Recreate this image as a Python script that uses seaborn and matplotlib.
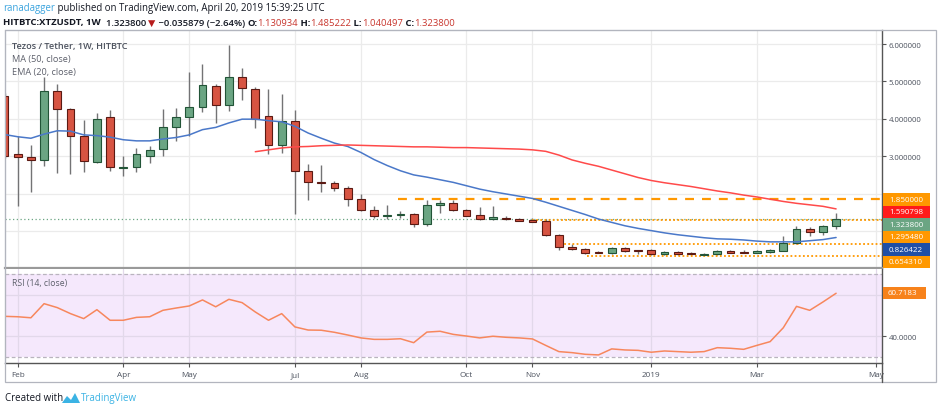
import numpy as np
import pandas as pd
import matplotlib
matplotlib.use("Agg")
import matplotlib.pyplot as plt
from matplotlib.patches import Rectangle, Polygon
from matplotlib.lines import Line2D
import seaborn as sns

# ---------------------------------------------------------------------
# Dane (świece tygodniowe XTZ/USDT, od 29.01.2018)
# ---------------------------------------------------------------------
opens = [4.62, 3.05, 2.98, 2.91, 4.75, 4.26, 3.55, 2.85, 4.04, 2.68,
         2.70, 3.01, 3.18, 3.79, 4.04, 4.32, 4.87, 4.38, 5.11, 4.80,
         4.07, 3.31, 3.93, 2.61, 2.32, 2.28, 2.14, 1.86, 1.57, 1.41,
         1.42, 1.45, 1.19, 1.70, 1.75, 1.57, 1.43, 1.32, 1.36, 1.32,
         1.29, 1.27, 0.89, 0.57, 0.52, 0.45, 0.40, 0.55, 0.49, 0.49,
         0.38, 0.43, 0.41, 0.37, 0.38, 0.46, 0.45, 0.42, 0.45, 0.47,
         0.67, 1.05, 0.96, 1.130934]
highs = [4.68, 3.55, 3.30, 5.13, 4.93, 4.28, 3.97, 4.16, 4.24, 3.00,
         3.23, 3.26, 4.26, 4.28, 5.24, 5.47, 4.93, 5.97, 5.35, 4.84,
         4.81, 4.66, 4.24, 2.79, 2.76, 2.34, 2.21, 1.99, 1.68, 1.70,
         1.53, 1.48, 1.84, 1.84, 1.83, 1.59, 1.63, 1.66, 1.39, 1.35,
         1.35, 1.32, 0.92, 0.65, 0.54, 0.47, 0.56, 0.58, 0.50, 0.52,
         0.46, 0.46, 0.43, 0.40, 0.49, 0.49, 0.48, 0.50, 0.52, 0.86,
         1.13, 1.10, 1.16, 1.485222]
lows = [2.95, 1.68, 2.05, 2.75, 2.55, 2.52, 2.59, 2.82, 2.61, 2.48,
        2.59, 2.82, 3.00, 3.41, 3.55, 4.19, 3.89, 4.22, 4.51, 3.75,
        3.06, 3.08, 1.45, 1.84, 2.03, 2.08, 1.68, 1.54, 1.35, 1.32,
        1.35, 1.10, 1.14, 1.48, 1.54, 1.39, 1.30, 1.30, 1.29, 1.27,
        1.23, 0.86, 0.49, 0.49, 0.38, 0.40, 0.38, 0.45, 0.38, 0.37,
        0.37, 0.37, 0.37, 0.35, 0.37, 0.40, 0.40, 0.40, 0.42, 0.47,
        0.65, 0.86, 0.90, 1.040497]
closes = [3.01, 2.98, 2.90, 4.75, 4.26, 3.55, 2.88, 3.99, 2.70, 2.72,
          3.05, 3.17, 3.77, 4.04, 4.31, 4.90, 4.37, 5.11, 4.82, 4.00,
          3.31, 3.93, 2.61, 2.30, 2.29, 2.14, 1.86, 1.57, 1.41, 1.43,
          1.45, 1.19, 1.70, 1.74, 1.55, 1.41, 1.32, 1.37, 1.31, 1.28,
          1.25, 0.89, 0.56, 0.51, 0.41, 0.41, 0.55, 0.47, 0.47, 0.38,
          0.43, 0.39, 0.375, 0.38, 0.46, 0.42, 0.41, 0.47, 0.50, 0.67,
          1.05, 0.96, 1.13, 1.3238]

ema20 = [3.58, 3.52, 3.48, 3.59, 3.68, 3.67, 3.57, 3.55, 3.51, 3.44,
         3.41, 3.41, 3.46, 3.50, 3.57, 3.71, 3.77, 3.89, 3.99, 3.99,
         3.95, 3.92, 3.80, 3.62, 3.48, 3.35, 3.26, 3.10, 2.91, 2.75,
         2.61, 2.50, 2.44, 2.37, 2.30, 2.21, 2.12, 2.05, 1.99, 1.93,
         1.87, 1.77, 1.66, 1.55, 1.44, 1.32, 1.23, 1.14, 1.07, 1.01,
         0.95, 0.90, 0.86, 0.82, 0.79, 0.78, 0.76, 0.73, 0.71, 0.71,
         0.71, 0.74, 0.77, 0.826422]

# MA(50) pojawia się dopiero od 20. świecy
ma50_start = 19
ma50 = [3.12, 3.17, 3.22, 3.25, 3.26, 3.28, 3.29, 3.30, 3.29, 3.28,
        3.27, 3.26, 3.25, 3.25, 3.24, 3.23, 3.23, 3.22, 3.21, 3.20,
        3.19, 3.17, 3.13, 3.03, 2.90, 2.81, 2.73, 2.63, 2.53, 2.43,
        2.35, 2.29, 2.24, 2.19, 2.13, 2.07, 2.02, 1.96, 1.91, 1.85,
        1.79, 1.74, 1.70, 1.66, 1.590798]

rsi = [49.6, 49.4, 48.9, 55.7, 53.8, 50.9, 48.5, 52.8, 47.7, 47.7,
       49.1, 49.4, 52.5, 53.6, 54.6, 57.5, 54.2, 57.8, 56.2, 51.7,
       47.7, 50.9, 44.5, 43.0, 42.9, 41.9, 40.6, 39.2, 38.5, 38.5,
       38.8, 36.9, 42.0, 42.4, 40.9, 40.1, 39.2, 40.0, 39.5, 39.2,
       38.7, 35.6, 32.6, 32.1, 31.3, 31.0, 33.9, 33.4, 33.2, 32.3,
       32.9, 32.6, 32.3, 32.6, 34.5, 34.2, 33.7, 35.6, 37.4, 44.1,
       54.4, 52.5, 56.5, 60.7183]

# poziomy narysowane przez autora (wartość, od której świecy)
level_values = [1.85, 1.29548, 0.65431, 0.325]
level_from = [29.8, 40.0, 42.1, 44.1]

month_weeks = [1, 9, 14, 22, 27, 35, 40, 49, 57, 66]
month_labels = ["Feb", "Apr", "May", "Jul", "Aug", "Oct", "Nov", "2019", "Mar", "May"]

price_ticks = [1, 2, 3, 4, 5, 6]
price_labels = ["", "", "3.000000", "4.000000", "5.000000", "6.000000"]
rsi_ticks = [40, 60]
rsi_labels = ["40.0000", ""]

# etykiety na osi cen (stos od góry)
tag_texts = ["1.850000", "1.590798", "1.323800", "1.295480", "0.826422", "0.654310"]
tag_colors = ["#FF9800", "#FF1A1A", "#6BA583", "#FF9800", "#1F4FA6", "#FF9800"]

# ---------------------------------------------------------------------
UP, UP_EDGE = "#6BA583", "#225437"
DOWN, DOWN_EDGE = "#D75442", "#5B1A13"
WICK = "#737375"
TXT = "#4C525E"
GRID = "#EBEBEB"

sns.set_theme(style="white")
plt.rcParams["font.family"] = ["Open Sans", "DejaVu Sans"]

W, H = 939, 410
fig = plt.figure(figsize=(W / 100, H / 100), dpi=100)


def fx(x):
    return x / W


def fy(y):
    return 1 - y / H


def px_axes(x0, y0, x1, y1):
    return fig.add_axes([fx(x0), fy(y1), (x1 - x0) / W, (y1 - y0) / H])


df = pd.DataFrame({"week": np.arange(len(opens)), "open": opens, "high": highs,
                   "low": lows, "close": closes, "ema20": ema20, "rsi": rsi})
df["ma50"] = np.nan
df.loc[ma50_start:, "ma50"] = ma50
x_min = (5 - 4.5) / 13.2
x_max = (882 - 4.5) / 13.2

# =====================================================================
# Panel cenowy
# =====================================================================
ax = px_axes(5, 31, 882, 269)
ax.set_facecolor("white")

ax.vlines(df["week"], df["low"], df["high"], color=WICK, lw=1, zorder=2)
up = df["close"] >= df["open"]
for mask, face, edge in [(up, UP, UP_EDGE), (~up, DOWN, DOWN_EDGE)]:
    d = df[mask]
    body = np.maximum((d["close"] - d["open"]).abs(), 0.02)
    ax.bar(d["week"], body, bottom=np.minimum(d["open"], d["close"]), width=0.58,
           color=face, edgecolor=edge, linewidth=0.8, zorder=3)

sns.lineplot(data=df, x="week", y="ema20", ax=ax, color="#4A78C9", lw=1.1, zorder=4)
sns.lineplot(data=df.iloc[ma50_start:], x="week", y="ma50", ax=ax, color="#FF4A4A",
             lw=1.1, zorder=4)

# poziomy wsparcia / oporu
ax.hlines(level_values[0], level_from[0], x_max, color="#FF9800", lw=1.6,
          linestyles=(0, (4, 3.6)), zorder=2)
for v, start in zip(level_values[1:], level_from[1:]):
    ax.hlines(v, start, x_max, color="#FF9800", lw=1.3, linestyles=(0, (1, 1.3)), zorder=2)
ax.hlines(closes[-1], x_min, x_max, color=UP, lw=0.9, linestyles=(0, (1, 2)), zorder=1)

ax.set_xlim(x_min, x_max)
ax.set_ylim(6 - (269 - 45) / 37.4, 6 + (45 - 31) / 37.4)
ax.set_xticks(month_weeks)
ax.set_xticklabels([])
ax.set_yticks(price_ticks)
ax.set_yticklabels(price_labels)
ax.yaxis.tick_right()
ax.tick_params(axis="y", which="both", right=True, left=False, length=3, width=0.8,
               color="#555555", labelsize=5.6, labelcolor=TXT, pad=2)
ax.tick_params(axis="x", bottom=False, length=0)
ax.grid(True, color=GRID, lw=0.9)
ax.set_axisbelow(True)
ax.set_xlabel("")
ax.set_ylabel("")
for side in ["top", "left"]:
    ax.spines[side].set_color("#B2B5BE")
    ax.spines[side].set_linewidth(0.8)
ax.spines["right"].set_color("#555555")
ax.spines["right"].set_linewidth(1)
ax.spines["bottom"].set_color("#9A9A9A")
ax.spines["bottom"].set_linewidth(1.6)

ax.text(7 / 877, 1 - 15 / 238, "Tezos / Tether, 1W, HITBTC", transform=ax.transAxes,
        fontsize=6.6, fontweight="semibold", color=TXT, va="center")
ax.text(7 / 877, 1 - 28.3 / 238, "MA (50, close)", transform=ax.transAxes,
        fontsize=6.6, color="#5D606B", va="center")
ax.text(7 / 877, 1 - 41.3 / 238, "EMA (20, close)", transform=ax.transAxes,
        fontsize=6.6, color="#5D606B", va="center")

# =====================================================================
# Panel RSI
# =====================================================================
ax_rsi = px_axes(5, 270, 882, 364)
ax_rsi.set_facecolor("white")
ax_rsi.axhspan(30, 70, color="#F5E8FC", zorder=0, lw=0)
for lvl in (30, 70):
    ax_rsi.axhline(lvl, color="#B9B4BE", lw=0.9, ls=(0, (3, 2)), zorder=1)
sns.lineplot(data=df, x="week", y="rsi", ax=ax_rsi, color="#F7875D", lw=1.1, zorder=4)

ax_rsi.set_xlim(x_min, x_max)
ax_rsi.set_ylim(30 - 6 / 2.075, 30 + 88 / 2.075)
ax_rsi.set_xticks(month_weeks)
ax_rsi.set_xticklabels(month_labels)
ax_rsi.set_yticks(rsi_ticks)
ax_rsi.set_yticklabels(rsi_labels)
ax_rsi.yaxis.tick_right()
ax_rsi.tick_params(axis="y", right=True, left=False, length=3, width=0.8, color="#555555",
                   labelsize=5.6, labelcolor=TXT, pad=2)
ax_rsi.tick_params(axis="x", bottom=True, length=3, width=0.8, color="#555555",
                   labelsize=5.9, labelcolor=TXT, pad=3)
ax_rsi.grid(True, color="#E2D8EA", lw=0.9)
ax_rsi.set_axisbelow(True)
ax_rsi.set_xlabel("")
ax_rsi.set_ylabel("")
ax_rsi.spines["top"].set_visible(False)
ax_rsi.spines["left"].set_color("#B2B5BE")
ax_rsi.spines["left"].set_linewidth(0.8)
for side in ["right", "bottom"]:
    ax_rsi.spines[side].set_color("#555555")
    ax_rsi.spines[side].set_linewidth(1)
ax_rsi.text(7 / 877, 1 - 13.5 / 94, "RSI (14, close)", transform=ax_rsi.transAxes,
            fontsize=6.2, color="#5D606B", va="center")

# =====================================================================
# Etykiety wartości na osi cen, ramka, nagłówek
# =====================================================================
for i, (txt, col) in enumerate(zip(tag_texts, tag_colors)):
    top = 194.3 + i * 12.5
    fig.add_artist(Rectangle((fx(883), fy(top + 12.3)), 47 / W, 12.3 / H,
                             transform=fig.transFigure, color=col, lw=0, zorder=5))
    fig.text(fx(889), fy(top + 6.2), txt, color="white", fontsize=5.8,
             va="center", ha="left", zorder=6)

fig.add_artist(Rectangle((fx(883), fy(300)), 43 / W, 12 / H, transform=fig.transFigure,
                         color="#F7821B", lw=0, zorder=5))
fig.text(fx(888), fy(294), "60.7183", color="white", fontsize=5.8, va="center",
         ha="left", zorder=6)

fig.add_artist(Rectangle((fx(5), fy(383)), 931 / W, 352 / H, transform=fig.transFigure,
                         fill=False, edgecolor="#B2B5BE", lw=0.9))
fig.add_artist(Line2D([fx(882), fx(882)], [fy(364), fy(383)], transform=fig.transFigure,
                      color="#555555", lw=1))

renderer = fig.canvas.get_renderer()


def chain(x, y, parts, size):
    for s, color, weight in parts:
        t = fig.text(fx(x), fy(y), s, color=color, fontsize=size, fontweight=weight,
                     va="center", ha="left")
        x += t.get_window_extent(renderer=renderer).width


DARK, RED = "#131722", "#C8362E"
chain(3, 8.5, [("ranadagger", "#3BA4DE", "normal"),
               (" published on TradingView.com, April 20, 2019 15:39:25 UTC", DARK, "normal")],
      6.9)
chain(3, 23, [("HITBTC:XTZUSDT, 1W", DARK, "bold"), ("  1.323800 ", DARK, "semibold"),
              ("▼", "#B71C1C", "normal"), (" \u22120.035879 (\u22122.64%) ", DARK, "semibold"),
              ("O:", DARK, "bold"), ("1.130934", RED, "normal"),
              (" H:", DARK, "bold"), ("1.485222", RED, "normal"),
              (" L:", DARK, "bold"), ("1.040497", RED, "normal"),
              (" C:", DARK, "bold"), ("1.323800", RED, "normal")], 6.8)

chain(5, 399, [("Created with", DARK, "normal")], 7)
logo = [(62, 404), (67, 397), (71, 401), (75, 394), (80, 404)]
fig.add_artist(Polygon([(fx(a), fy(b)) for a, b in logo], closed=True,
                       transform=fig.transFigure, color="#3BB3E4", lw=0))
chain(81, 399, [("TradingView", "#3BB3E4", "normal")], 7)

fig.savefig("out.png", dpi=100)
